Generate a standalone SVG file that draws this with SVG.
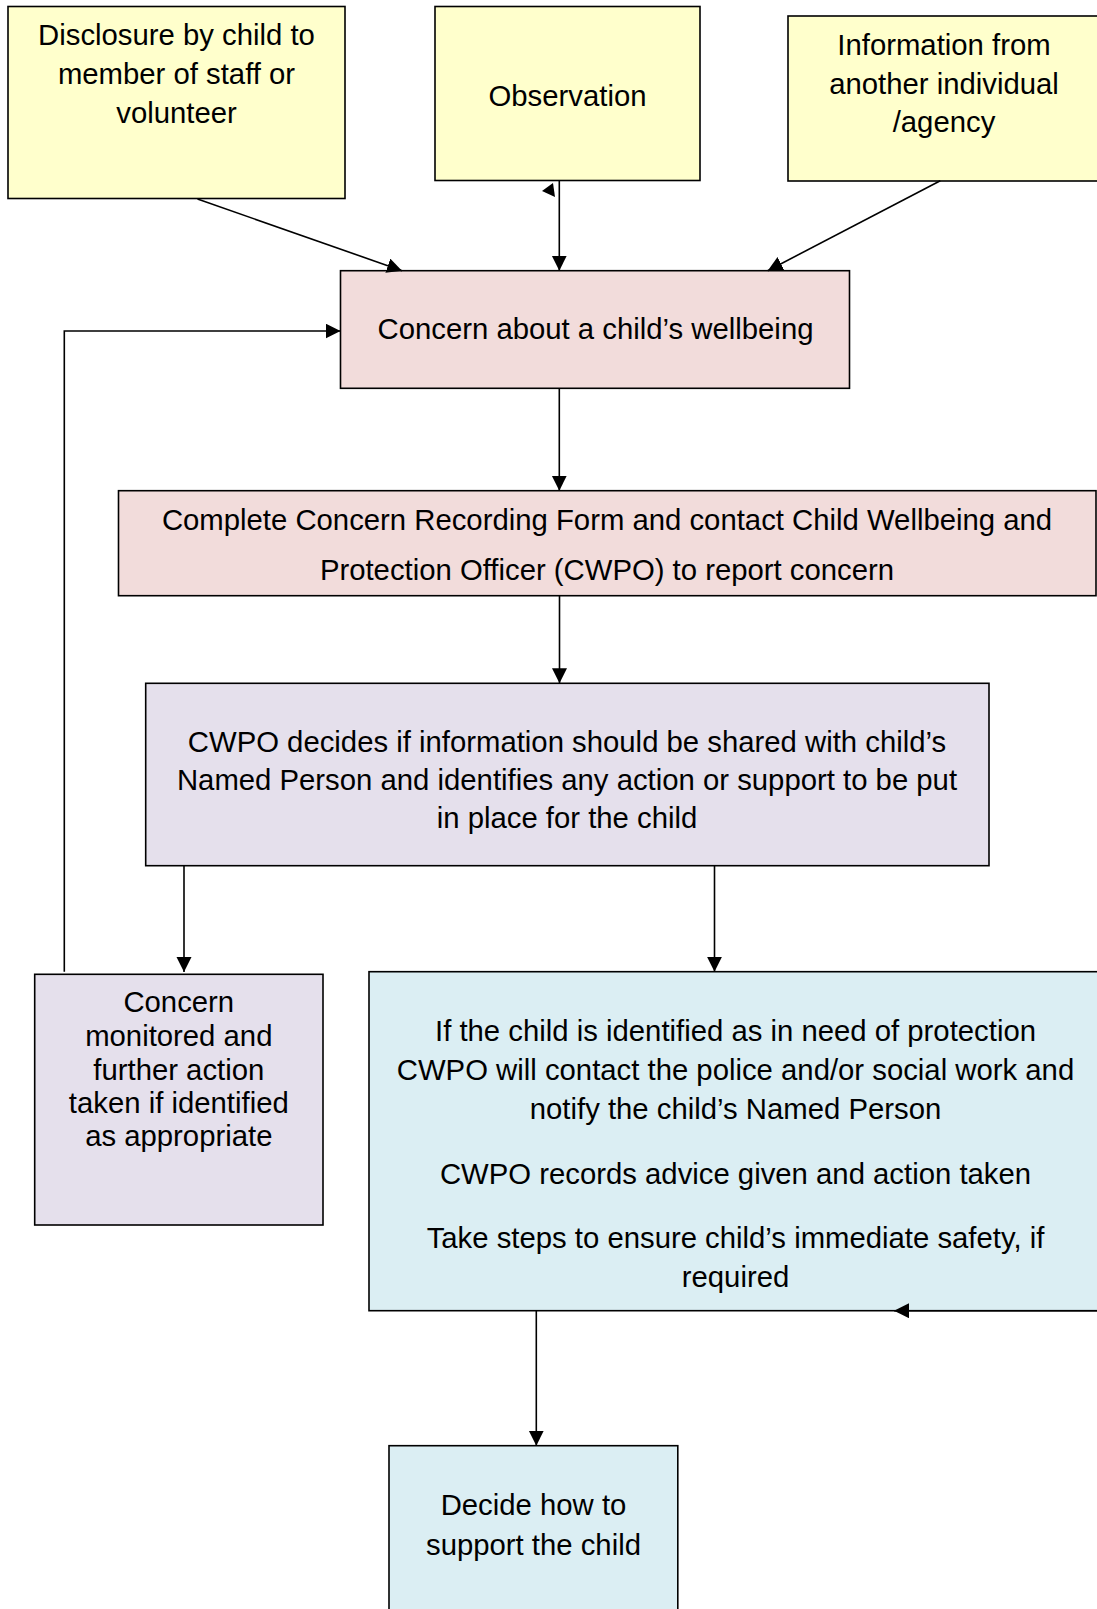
<svg xmlns="http://www.w3.org/2000/svg" width="1097" height="1609" viewBox="0 0 1097 1609">
<style>
text{font-family:"Liberation Sans",Arial,sans-serif;font-size:29.3px;fill:#000;text-anchor:middle}
.box{stroke:#000;stroke-width:1.6}
.y{fill:#FFFFCC}.p{fill:#F2DCDB}.l{fill:#E5E0EC}.b{fill:#DBEEF3}
.c{fill:none;stroke:#000;stroke-width:1.6}
</style>
<defs>
<marker id="ah" markerUnits="userSpaceOnUse" markerWidth="16" markerHeight="16" refX="15" refY="7.5" orient="auto">
<path d="M0,0 L15,7.5 L0,15 z" fill="#000"/>
</marker>
</defs>
<rect width="1097" height="1609" fill="#fff"/>
<g id="disclosure"><rect class="box y" x="8" y="6.5" width="337" height="192"/>
<text x="176.5" y="44.5">Disclosure by child to</text><text x="176.5" y="83.5">member of staff or</text><text x="176.5" y="122.5">volunteer</text></g>
<g id="observation"><rect class="box y" x="435" y="6.5" width="265" height="174"/>
<text x="567.5" y="105.5">Observation</text></g>
<g id="information"><rect class="box y" x="788" y="16" width="314" height="165"/>
<text x="944" y="54.5">Information from</text><text x="944" y="93.5">another individual</text><text x="944" y="132">/agency</text></g>
<g id="concern"><rect class="box p" x="340.5" y="270.7" width="509" height="117.6"/>
<text x="595.5" y="339">Concern about a child’s wellbeing</text></g>
<g id="complete"><rect class="box p" x="118.5" y="490.7" width="977.5" height="105"/>
<text x="607" y="530">Complete Concern Recording Form and contact Child Wellbeing and</text><text x="607" y="579.5">Protection Officer (CWPO) to report concern</text></g>
<g id="cwpo"><rect class="box l" x="145.7" y="683.3" width="843.3" height="182.4"/>
<text x="567" y="751.7">CWPO decides if information should be shared with child’s</text><text x="567" y="790">Named Person and identifies any action or support to be put</text><text x="567" y="828.3">in place for the child</text></g>
<g id="monitored"><rect class="box l" x="34.7" y="974.3" width="288.3" height="250.7"/>
<text x="178.8" y="1012.3">Concern</text><text x="178.8" y="1046">monitored and</text><text x="178.8" y="1080">further action</text><text x="178.8" y="1113.3">taken if identified</text><text x="178.8" y="1146">as appropriate</text></g>
<g id="protection"><rect class="box b" x="369" y="971.7" width="733" height="339"/>
<text x="735.5" y="1041">If the child is identified as in need of protection</text><text x="735.5" y="1080">CWPO will contact the police and/or social work and</text><text x="735.5" y="1119">notify the child’s Named Person</text><text x="735.5" y="1184">CWPO records advice given and action taken</text><text x="735.5" y="1248">Take steps to ensure child’s immediate safety, if</text><text x="735.5" y="1287">required</text></g>
<g id="decide"><rect class="box b" x="389" y="1445.7" width="288.8" height="180"/>
<text x="533.5" y="1515">Decide how to</text><text x="533.5" y="1555">support the child</text></g>
<g id="connectors">
<path class="c" d="M197.5,199 L402,270.7" marker-end="url(#ah)"/>
<path class="c" d="M559.3,181 L559.3,270.7" marker-end="url(#ah)"/>
<polygon points="542,191 553,183 555,197" fill="#000"/>
<path class="c" d="M940.3,180.7 L767.7,270.7" marker-end="url(#ah)"/>
<path class="c" d="M64.3,971.7 L64.3,331 L340.5,331" marker-end="url(#ah)"/>
<path class="c" d="M559.3,388.3 L559.3,490.7" marker-end="url(#ah)"/>
<path class="c" d="M559.5,595.7 L559.5,683.3" marker-end="url(#ah)"/>
<path class="c" d="M184,865.7 L184,972" marker-end="url(#ah)"/>
<path class="c" d="M714.5,865.7 L714.5,971.7" marker-end="url(#ah)"/>
<path class="c" d="M536.3,1310.7 L536.3,1445.7" marker-end="url(#ah)"/>
<path class="c" d="M1100,1310.7 L894,1310.7" marker-end="url(#ah)"/>
</g>
</svg>
